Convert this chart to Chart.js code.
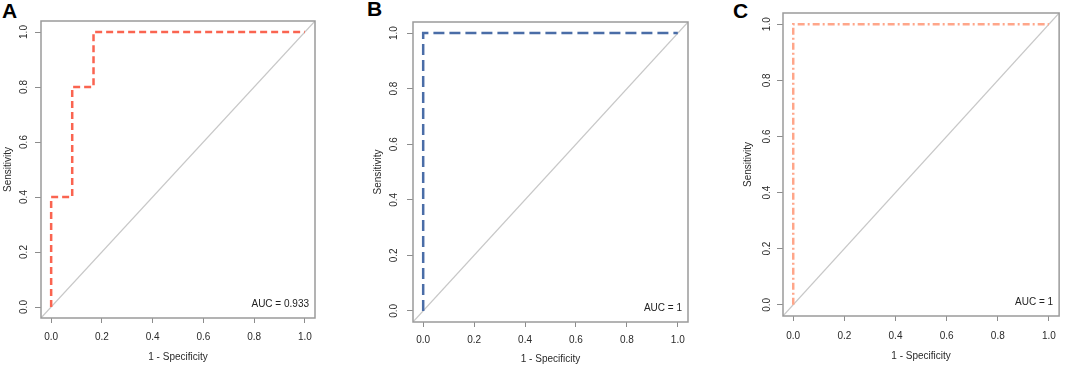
<!DOCTYPE html>
<html><head><meta charset="utf-8">
<script src="https://cdn.jsdelivr.net/npm/chart.js@4.4.0/dist/chart.umd.min.js"></script>
<style>
body{margin:0;background:#fff;width:1065px;height:368px;overflow:hidden;position:relative;font-family:"Liberation Sans",Arial,sans-serif}
canvas{position:absolute;top:0}
.lbl{position:absolute;font-weight:bold;font-size:21px;line-height:20px;color:#000;font-family:"Liberation Sans",Arial,sans-serif}
</style></head><body>
<div class="lbl" id="lA" style="left:2px;top:1px"></div>
<div class="lbl" id="lB" style="left:367px;top:-1px"></div>
<div class="lbl" id="lC" style="left:733px;top:1px"></div>
<canvas id="cA" width="330" height="368" style="left:0px"></canvas>
<canvas id="cB" width="350" height="368" style="left:360px"></canvas>
<canvas id="cC" width="350" height="368" style="left:715px"></canvas>
<script>
// ---- data ----
const tickValues = [0, 0.2, 0.4, 0.6, 0.8, 1.0];
const axisMin = -0.04;
const axisMax = 1.04;
const diagonal = [-0.04, 1.04];
const rocA_fpr = [0, 0, 0.083, 0.083, 0.167, 0.167, 1];
const rocA_tpr = [0, 0.4, 0.4, 0.8, 0.8, 1, 1];
const rocB_fpr = [0, 0, 1];
const rocB_tpr = [0, 1, 1];
const rocC_fpr = [0, 0, 1];
const rocC_tpr = [0, 1, 1];
const aucText = ['AUC = 0.933', 'AUC = 1', 'AUC = 1'];
const panelLetters = ['A', 'B', 'C'];
const xTitle = '1 - Specificity';
const yTitle = 'Sensitivity';

document.getElementById('lA').textContent = panelLetters[0];
document.getElementById('lB').textContent = panelLetters[1];
document.getElementById('lC').textContent = panelLetters[2];

const FONT = '"Liberation Sans", Arial, sans-serif';

const panels = [
  {canvas:'cA', fpr:rocA_fpr, tpr:rocA_tpr, auc:aucText[0], color:'#FA6450', dash:[7,4],
   pad:{top:21,right:15,left:0,bottom:0}, yW:41, xH:50, yTitlePad:2, yTickPad:4, xTickPad:8, xTitlePad:5},
  {canvas:'cB', fpr:rocB_fpr, tpr:rocB_tpr, auc:aucText[1], color:'#4A6DA7', dash:[11,5],
   pad:{top:22,right:22,left:0,bottom:0}, yW:53, xH:46, yTitlePad:12, yTickPad:6, xTickPad:7, xTitlePad:3},
  {canvas:'cC', fpr:rocC_fpr, tpr:rocC_tpr, auc:aucText[2], color:'#FFA68A', dash:[7,3,2,3],
   pad:{top:13,right:4,left:0,bottom:0}, yW:68, xH:52, yTitlePad:27, yTickPad:3, xTickPad:9, xTitlePad:6}
];

const framePlugin = {
  id: 'frame',
  afterDraw(chart, args, opts) {
    const {ctx, chartArea: a} = chart;
    ctx.save();
    ctx.strokeStyle = '#9a9a9a';
    ctx.lineWidth = 1.5;
    ctx.strokeRect(a.left, a.top, a.right - a.left, a.bottom - a.top);
    ctx.fillStyle = '#222';
    ctx.font = '10px ' + FONT;
    ctx.textAlign = 'right';
    ctx.textBaseline = 'middle';
    ctx.fillText(opts.text, a.right - 6, a.bottom - 14);
    ctx.restore();
  }
};

panels.forEach(p => {
  const roc = p.fpr.map((x, i) => ({x: x, y: p.tpr[i]}));
  const diag = diagonal.map(v => ({x: v, y: v}));
  new Chart(document.getElementById(p.canvas), {
    type: 'scatter',
    data: {
      datasets: [
        {data: roc, showLine: true, borderColor: p.color, borderWidth: 2.5, borderDash: p.dash,
         borderCapStyle: 'butt', pointRadius: 0, fill: false, tension: 0},
        {data: diag, showLine: true, borderColor: '#c8c8c8', borderWidth: 1.2, pointRadius: 0, fill: false}
      ]
    },
    plugins: [framePlugin],
    options: {
      responsive: false,
      animation: false,
      devicePixelRatio: 1,
      layout: {padding: p.pad},
      plugins: {legend: {display: false}, tooltip: {enabled: false}, frame: {text: p.auc}},
      scales: {
        x: {
          type: 'linear', min: axisMin, max: axisMax,
          afterBuildTicks: s => { s.ticks = tickValues.map(v => ({value: v})); },
          afterFit: s => { s.height = p.xH; },
          grid: {drawOnChartArea: false, drawTicks: true, tickLength: 5, color: '#8c8c8c', lineWidth: 1},
          border: {display: false},
          ticks: {autoSkip: false, minRotation: 0, maxRotation: 0, padding: p.xTickPad, color: '#2a2a2a',
                  font: {family: FONT, size: 10}, callback: v => Number(v).toFixed(1)},
          title: {display: true, text: xTitle, color: '#2a2a2a', font: {family: FONT, size: 10},
                  padding: {top: 0, bottom: p.xTitlePad}}
        },
        y: {
          type: 'linear', min: axisMin, max: axisMax,
          afterBuildTicks: s => { s.ticks = tickValues.map(v => ({value: v})); },
          afterFit: s => { s.width = p.yW; },
          grid: {drawOnChartArea: false, drawTicks: true, tickLength: 6, color: '#8c8c8c', lineWidth: 1},
          border: {display: false},
          ticks: {autoSkip: false, minRotation: 90, maxRotation: 90, crossAlign: 'center', padding: p.yTickPad,
                  color: '#2a2a2a', font: {family: FONT, size: 10}, callback: v => Number(v).toFixed(1)},
          title: {display: true, text: yTitle, color: '#2a2a2a', font: {family: FONT, size: 10},
                  padding: {top: p.yTitlePad, bottom: 0}}
        }
      }
    }
  });
});
</script>
</body></html>
